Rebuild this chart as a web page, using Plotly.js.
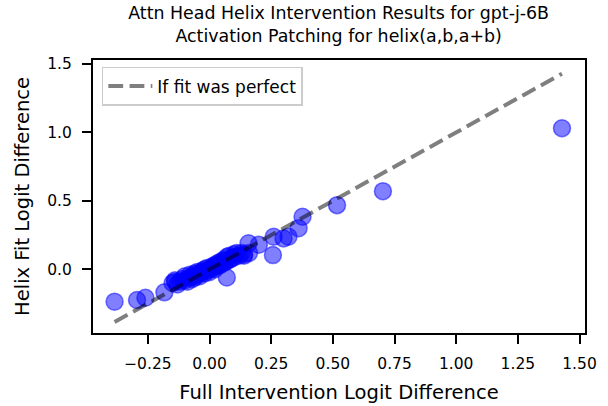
<!DOCTYPE html>
<html>
<head>
<meta charset="utf-8">
<script src="https://cdn.plot.ly/plotly-3.0.1.min.js"></script>
<style>html,body{margin:0;padding:0;background:#fff;}#chart{width:608px;height:406px;}</style>
</head>
<body>
<div id="chart"></div>
<script>
// Full intervention logit difference (x) vs helix fit logit difference (y)
const fullDiff = [
  -0.385, -0.294, -0.26, -0.183, -0.139,
  -0.15, -0.14, -0.13, -0.12, -0.11, -0.10, -0.10, -0.09, -0.08, -0.08,
  -0.07, -0.07, -0.06, -0.06, -0.05, -0.05, -0.04, -0.04, -0.03, -0.03,
  -0.02, -0.02, -0.01, -0.01, 0.00, 0.00, 0.01, 0.01, 0.02, 0.02,
  0.03, 0.03, 0.04, 0.04, 0.05, 0.05, 0.06, 0.06, 0.07, 0.07,
  0.08, 0.08, 0.09, 0.10, 0.10, 0.11, 0.12, 0.13, 0.14, 0.07,
  0.14, 0.16,
  0.158, 0.20, 0.257, 0.26, 0.30, 0.32, 0.361, 0.377, 0.517, 0.703, 1.429
];
const helixDiff = [
  -0.236, -0.224, -0.207, -0.168, -0.09,
  -0.10, -0.08, -0.11, -0.09, -0.07, -0.08, -0.05, -0.09, -0.06, -0.04,
  -0.07, -0.05, -0.03, -0.06, -0.04, -0.02, -0.05, -0.03, -0.02, -0.01,
  -0.03, 0.00, -0.01, 0.01, 0.00, -0.02, 0.01, 0.02, 0.00, 0.03,
  0.02, 0.04, 0.03, 0.05, 0.04, 0.06, 0.05, 0.07, 0.06, 0.09,
  0.07, 0.10, 0.08, 0.11, 0.09, 0.12, 0.10, 0.12, 0.11, -0.06,
  0.10, 0.12,
  0.19, 0.18, 0.104, 0.238, 0.226, 0.238, 0.30, 0.384, 0.469, 0.571, 1.031
];
const xTicks = [-0.25, 0, 0.25, 0.5, 0.75, 1.0, 1.25, 1.5];
const yTicks = [0, 0.5, 1.0, 1.5];

const lo = Math.min(...fullDiff), hi = Math.max(...fullDiff);
const FONT = 'DejaVu Sans, sans-serif';

const traces = [
  {
    x: fullDiff, y: helixDiff, type: 'scatter', mode: 'markers', showlegend: false,
    marker: {size: 17, color: 'rgba(0,0,255,0.5)', line: {color: 'rgba(0,0,255,0.5)', width: 1.5}},
    hoverinfo: 'skip'
  },
  {
    x: [lo, hi], y: [lo, hi], type: 'scatter', mode: 'lines', name: 'If fit was perfect',
    line: {color: 'rgba(0,0,0,0.5)', width: 4, dash: '14.8px,6.4px'}
  }
];

const layout = {
  width: 608, height: 406,
  margin: {l: 93, r: 23, t: 60, b: 73},
  paper_bgcolor: '#fff', plot_bgcolor: '#fff',
  font: {family: FONT, color: '#000', size: 15.5},
  title: {text: 'Attn Head Helix Intervention Results for gpt-j-6B<br>Activation Patching for helix(a,b,a+b)',
          font: {family: FONT, size: 17.4, color: '#000'}, x: 0.557, xanchor: 'center', y: 0.952, yanchor: 'top', yref: 'container'},
  xaxis: {
    range: [-0.4725, 1.5223], tickvals: xTicks, tickformat: '.2f',
    showgrid: false, zeroline: false, showline: true, mirror: true, linecolor: '#000', linewidth: 2,
    ticks: 'outside', ticklen: 9, tickwidth: 2, tickcolor: '#000', ticklabelstandoff: 6,
    tickfont: {family: FONT, size: 15.5, color: '#000'},
    title: {text: 'Full Intervention Logit Difference', font: {family: FONT, size: 19.5, color: '#000'}, standoff: 14}
  },
  yaxis: {
    range: [-0.465, 1.529], tickvals: yTicks, tickformat: '.1f',
    showgrid: false, zeroline: false, showline: true, mirror: true, linecolor: '#000', linewidth: 2,
    ticks: 'outside', ticklen: 9, tickwidth: 2, tickcolor: '#000', ticklabelstandoff: 7,
    tickfont: {family: FONT, size: 15.5, color: '#000'},
    title: {text: 'Helix Fit Logit Difference', font: {family: FONT, size: 19.5, color: '#000'}, standoff: 12}
  },
  legend: {x: 0.018, y: 0.975, xanchor: 'left', yanchor: 'top', bgcolor: 'rgba(255,255,255,0.8)',
           bordercolor: '#cccccc', borderwidth: 1.5, itemwidth: 44, font: {family: FONT, size: 17, color: '#000'}},
  showlegend: true
};

Plotly.newPlot('chart', traces, layout, {displayModeBar: false, staticPlot: true});
</script>
</body>
</html>
